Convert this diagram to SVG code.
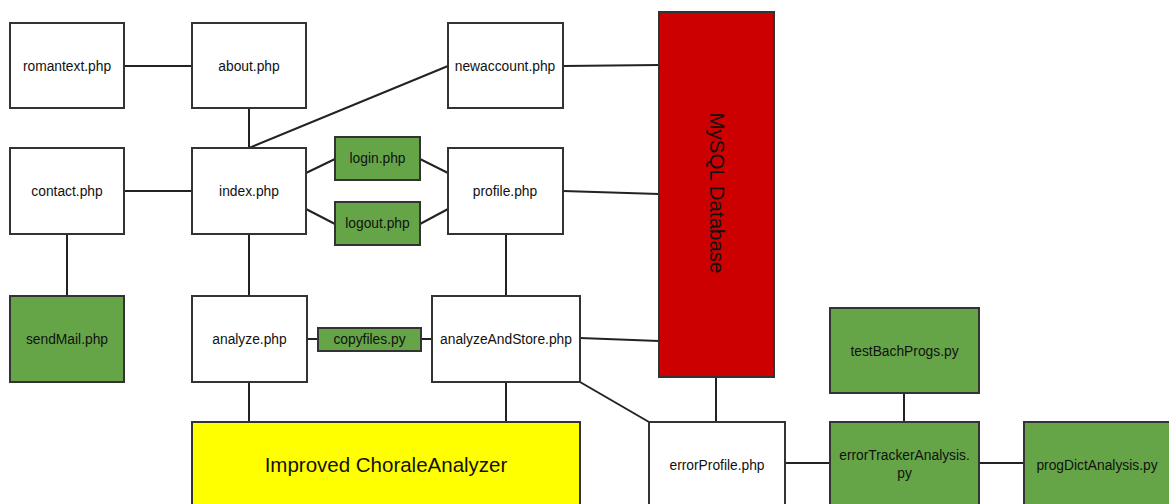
<svg xmlns="http://www.w3.org/2000/svg" width="1169" height="504" viewBox="0 0 1169 504">
<style>
.b{fill:#ffffff;stroke:#333333;stroke-width:2}
.g{fill:#65a548;stroke:#333333;stroke-width:2}
.r{fill:#cc0000;stroke:#333333;stroke-width:2}
.y{fill:#ffff00;stroke:#333333;stroke-width:2}
text{font-family:"Liberation Sans",Arial,sans-serif;font-size:13.8px;fill:#111111;text-anchor:middle;dominant-baseline:central}
.big{font-size:20.5px}
#conn line{stroke:#222222;stroke-width:2}
</style>
<rect width="1169" height="504" fill="#ffffff"/>
<g id="conn">
<line x1="124" y1="66" x2="192" y2="66"/>
<line x1="249" y1="108" x2="249" y2="148"/>
<line x1="249" y1="148" x2="448" y2="66"/>
<line x1="563" y1="66" x2="659" y2="65"/>
<line x1="124" y1="191" x2="192" y2="191"/>
<line x1="306" y1="173" x2="335" y2="159"/>
<line x1="420" y1="159" x2="448" y2="173"/>
<line x1="306" y1="209" x2="335" y2="224"/>
<line x1="420" y1="224" x2="448" y2="209"/>
<line x1="563" y1="191" x2="659" y2="194"/>
<line x1="67" y1="234" x2="67" y2="296"/>
<line x1="249" y1="234" x2="249" y2="296"/>
<line x1="506" y1="234" x2="506" y2="296"/>
<line x1="306" y1="339" x2="318" y2="339"/>
<line x1="421" y1="339" x2="432" y2="339"/>
<line x1="580" y1="338" x2="659" y2="341"/>
<line x1="249" y1="382" x2="249" y2="421"/>
<line x1="506" y1="382" x2="506" y2="421"/>
<line x1="580" y1="382" x2="649" y2="422"/>
<line x1="716" y1="377" x2="716" y2="422"/>
<line x1="785" y1="463" x2="830" y2="463"/>
<line x1="979" y1="463" x2="1024" y2="463"/>
<line x1="904" y1="393" x2="904" y2="422"/>
</g>
<g id="romantext"><rect class="b" x="10" y="23" width="114" height="85"/><text x="67" y="66">romantext.php</text></g>
<g id="about"><rect class="b" x="192" y="23" width="114" height="85"/><text x="249" y="66">about.php</text></g>
<g id="newaccount"><rect class="b" x="448" y="23" width="115" height="85"/><text x="505" y="66">newaccount.php</text></g>
<g id="mysql"><rect class="r" x="659" y="12" width="115" height="365"/><text class="big" transform="translate(717 193) rotate(90)" x="0" y="0">MySQL Database</text></g>
<g id="contact"><rect class="b" x="10" y="148" width="114" height="86"/><text x="67" y="191">contact.php</text></g>
<g id="index"><rect class="b" x="192" y="148" width="114" height="86"/><text x="249" y="191">index.php</text></g>
<g id="login"><rect class="g" x="335" y="137" width="85" height="43"/><text x="377.500" y="158">login.php</text></g>
<g id="logout"><rect class="g" x="335" y="202" width="85" height="43"/><text x="377.500" y="223">logout.php</text></g>
<g id="profile"><rect class="b" x="448" y="148" width="115" height="86"/><text x="505" y="191">profile.php</text></g>
<g id="sendMail"><rect class="g" x="10" y="296" width="114" height="86"/><text x="67" y="339">sendMail.php</text></g>
<g id="analyze"><rect class="b" x="192" y="296" width="115" height="86"/><text x="249.500" y="339">analyze.php</text></g>
<g id="copyfiles"><rect class="g" x="318" y="328" width="103" height="23"/><text x="369.500" y="339">copyfiles.py</text></g>
<g id="analyzeAndStore"><rect class="b" x="432" y="296" width="148" height="86"/><text x="506" y="339">analyzeAndStore.php</text></g>
<g id="chorale"><rect class="y" x="192" y="422" width="388" height="90"/><text class="big" x="386" y="464">Improved ChoraleAnalyzer</text></g>
<g id="errorProfile"><rect class="b" x="649" y="422" width="136" height="90"/><text x="717" y="465">errorProfile.php</text></g>
<g id="testBachProgs"><rect class="g" x="830" y="308" width="149" height="85"/><text x="904.500" y="351">testBachProgs.py</text></g>
<g id="errorTracker"><rect class="g" x="830" y="422" width="149" height="90"/><text x="904.500" y="455">errorTrackerAnalysis.</text><text x="904.500" y="473">py</text></g>
<g id="progDict"><rect class="g" x="1024" y="422" width="150" height="90"/><text x="1097" y="465">progDictAnalysis.py</text></g>
</svg>
